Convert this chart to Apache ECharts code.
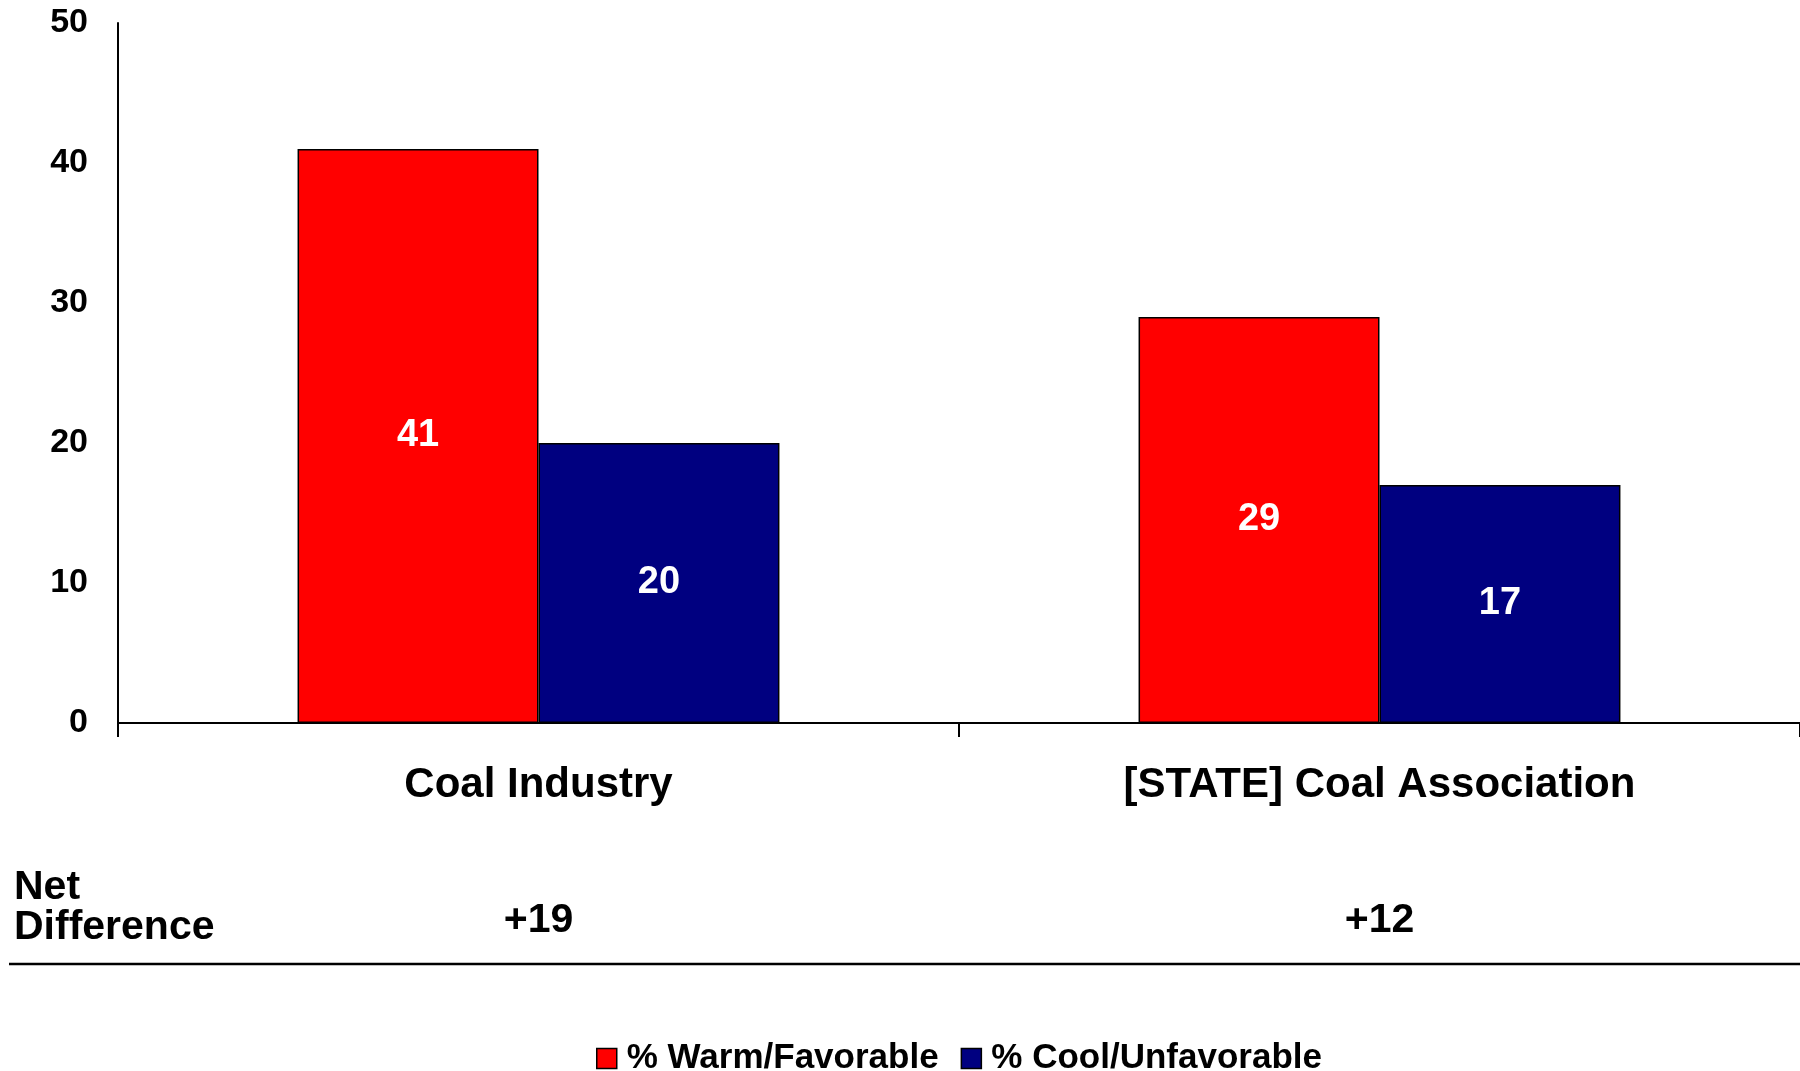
<!DOCTYPE html>
<html>
<head>
<meta charset="utf-8">
<script src="https://cdn.jsdelivr.net/npm/echarts@6/dist/echarts.min.js"></script>
<style>
html,body{margin:0;padding:0;background:#fff;}
#chart{width:1800px;height:1071px;}
</style>
</head>
<body>
<div id="chart"></div>
<script>
const categories = ['Coal Industry', '[STATE] Coal Association'];
const warmValues = [41, 29];
const coolValues = [20, 17];
const netDifference = ['+19', '+12'];
const seriesNames = ['% Warm/Favorable', '% Cool/Unfavorable'];
const yTicks = [0, 10, 20, 30, 40, 50];

const FONT = '"Liberation Sans", Arial, sans-serif';
const chart = echarts.init(document.getElementById('chart'));

const labelStyle = {
  show: true,
  position: 'inside',
  color: '#fff',
  fontFamily: FONT,
  fontWeight: 'bold',
  fontSize: 38
};

chart.setOption({
  animation: false,
  backgroundColor: '#fff',
  grid: { left: 118, right: 0, top: 23, bottom: 348, containLabel: false },
  legend: {
    data: seriesNames,
    icon: 'rect',
    left: 591,
    top: 1036,
    itemWidth: 20,
    itemHeight: 20,
    itemGap: 22,
    textStyle: { fontFamily: FONT, fontWeight: 'bold', fontSize: 35, color: '#000', padding: [0,0,0,5] },
    itemStyle: { borderColor: '#000', borderWidth: 1.5 }
  },
  xAxis: {
    type: 'category',
    data: categories,
    axisLine: { lineStyle: { color: '#000', width: 2 } },
    axisTick: { show: true, length: 14, lineStyle: { color: '#000', width: 2 } },
    axisLabel: {
      margin: 37,
      interval: 0,
      formatter: function (v, i) {
        return '{cat|' + v + '}\n{net|' + netDifference[i] + '}';
      },
      rich: {
        cat: { fontFamily: FONT, fontWeight: 'bold', fontSize: 42, color: '#000', lineHeight: 50 },
        net: { fontFamily: FONT, fontWeight: 'bold', fontSize: 41, color: '#000', lineHeight: 222 }
      }
    },
    splitLine: { show: false }
  },
  yAxis: {
    type: 'value',
    min: yTicks[0],
    max: yTicks[yTicks.length - 1],
    interval: 10,
    axisLine: { show: true, lineStyle: { color: '#000', width: 2 } },
    axisTick: { show: false },
    splitLine: { show: false },
    axisLabel: { margin: 30, fontFamily: FONT, fontWeight: 'bold', fontSize: 34, color: '#000' }
  },
  series: [
    {
      name: seriesNames[0],
      type: 'bar',
      data: warmValues,
      barGap: '0%',
      barCategoryGap: '42.7%',
      itemStyle: { color: '#FF0000', borderColor: '#000', borderWidth: 1.5 },
      label: labelStyle
    },
    {
      name: seriesNames[1],
      type: 'bar',
      data: coolValues,
      barGap: '0%',
      barCategoryGap: '42.7%',
      itemStyle: { color: '#000080', borderColor: '#000', borderWidth: 1.5 },
      label: labelStyle
    }
  ],
  graphic: [
    {
      type: 'text',
      left: 14,
      top: 867,
      style: {
        text: 'Net\nDifference',
        font: 'bold 41px ' + FONT,
        lineHeight: 40,
        fill: '#000'
      }
    },
    {
      type: 'line',
      shape: { x1: 9, y1: 964, x2: 1800, y2: 964 },
      style: { stroke: '#000', lineWidth: 2.5 }
    }
  ]
});
</script>
</body>
</html>
